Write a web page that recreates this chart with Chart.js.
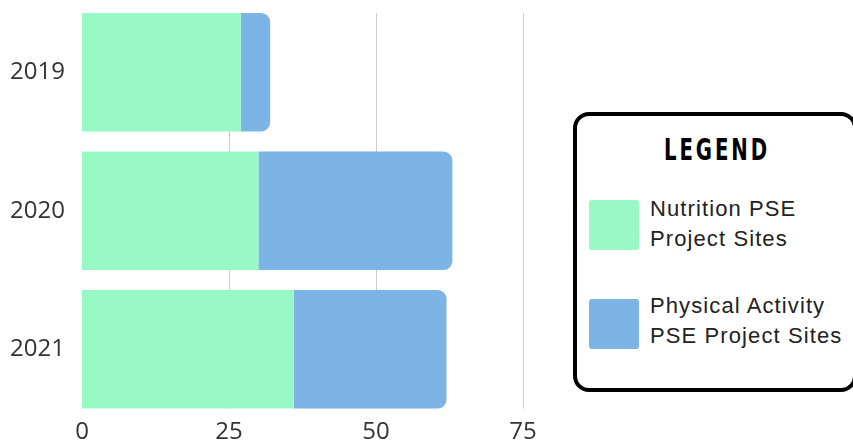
<!DOCTYPE html>
<html>
<head>
<meta charset="utf-8">
<script src="https://cdn.jsdelivr.net/npm/chart.js@4.4.1/dist/chart.umd.min.js"></script>
<style>
    html, body { margin: 0; padding: 0; background: #fff; }
    #wrap { position: relative; width: 853px; height: 445px; overflow: hidden; }
    #legendBox {
        position: absolute; left: 573px; top: 112px; width: 284px; height: 280px;
        box-sizing: border-box; border: 4px solid #000; border-radius: 16px; background: #fff;
    }
    .legend-title {
        position: absolute; left: 573px; width: 288px; top: 134px; height: 32px; line-height: 32px;
        text-align: center; font-family: "Liberation Sans Narrow", "DejaVu Sans Condensed", sans-serif;
        font-weight: bold; font-size: 30px; letter-spacing: 4px; color: #000;
        transform: scaleX(0.73); transform-origin: 50% 50%;
    }
    .legend-swatch { position: absolute; left: 589px; width: 50px; height: 50px; border-radius: 3px; }
    .legend-label {
        position: absolute; left: 650px; white-space: pre-line;
        font-family: "Liberation Sans", Arial, sans-serif; font-size: 22px; letter-spacing: 1.1px;
        line-height: 30px; color: #222;
    }
</style>
</head>
<body>
<div id="wrap">
    <canvas id="barChart" width="853" height="445"></canvas>
    <div id="legendBox"></div>
    <div id="legend"></div>
</div>
<script>
const years = ["2019", "2020", "2021"];
const nutritionSites = [27, 30, 36];
const activitySites = [5, 33, 26];
const xTicks = [0, 25, 50, 75];
const seriesNames = ["Nutrition PSE\nProject Sites", "Physical Activity\nPSE Project Sites"];

const GREEN = "#98F9C4";
const BLUE = "#7BB4E5";

/**
 * Grid lines only as tall as the bars,
 * and none at zero.
 */
const shortGrid = {
    id: "shortGrid",
    beforeDatasetsDraw(chart) {
        const meta = chart.getDatasetMeta(0);
        const first = meta.data[0];
        const last = meta.data[meta.data.length - 1];
        const top = first.y - first.height / 2;
        const bottom = last.y + last.height / 2;
        const ctx = chart.ctx;
        const xScale = chart.scales.x;
        ctx.save();
        ctx.strokeStyle = "#cccccc";
        ctx.lineWidth = 1;
        xScale.ticks.forEach(t => {
            if (t.value === 0) return;
            const x = Math.round(xScale.getPixelForValue(t.value)) + 0.5;
            ctx.beginPath();
            ctx.moveTo(x, top);
            ctx.lineTo(x, bottom);
            ctx.stroke();
        });
        ctx.restore();
    }
};

function showBarChart() {
    const ctx = document.getElementById("barChart");
    return new Chart(ctx, {
        type: "bar",
        data: {
            labels: years,
            datasets: [{
                label: seriesNames[0],
                data: nutritionSites,
                backgroundColor: GREEN,
                borderRadius: 0,
                categoryPercentage: 0.855,
                barPercentage: 1
            }, {
                label: seriesNames[1],
                data: activitySites,
                backgroundColor: BLUE,
                borderRadius: 9,
                borderSkipped: "start",
                categoryPercentage: 0.855,
                barPercentage: 1
            }]
        },
        options: {
            indexAxis: "y",
            responsive: false,
            animation: false,
            layout: { padding: { top: 3, right: 330, left: 0, bottom: 0 } },
            plugins: { legend: { display: false }, tooltip: { enabled: false } },
            scales: {
                x: {
                    stacked: true,
                    min: 0,
                    max: 75,
                    afterBuildTicks: s => { s.ticks = xTicks.map(v => ({ value: v })); },
                    grid: { display: false, drawTicks: false },
                    border: { display: false },
                    ticks: {
                        padding: 0,
                        color: "#333",
                        font: { family: "'Open Sans'", size: 24, lineHeight: 1.1 }
                    }
                },
                y: {
                    stacked: true,
                    afterFit: s => {
                        s.width = 82;
                        s.paddingTop = 0;
                        s.paddingBottom = 0;
                    },
                    grid: { display: false, drawTicks: false },
                    border: { display: false },
                    ticks: {
                        padding: 17,
                        color: "#333",
                        font: { family: "'Open Sans'", size: 24 }
                    }
                }
            }
        },
        plugins: [shortGrid]
    });
}

/**
 * Build the boxed legend from the datasets.
 */
function buildLegend(chart) {
    const holder = document.getElementById("legend");
    const title = document.createElement("div");
    title.className = "legend-title";
    title.textContent = "LEGEND";
    holder.appendChild(title);
    chart.data.datasets.forEach((ds, i) => {
        const sw = document.createElement("div");
        sw.className = "legend-swatch";
        sw.style.background = ds.backgroundColor;
        sw.style.top = (200 + i * 99) + "px";
        holder.appendChild(sw);
        const lab = document.createElement("div");
        lab.className = "legend-label";
        lab.textContent = ds.label;
        lab.style.top = (194 + i * 97) + "px";
        holder.appendChild(lab);
    });
}

const chart = showBarChart();
buildLegend(chart);
</script>
</body>
</html>
